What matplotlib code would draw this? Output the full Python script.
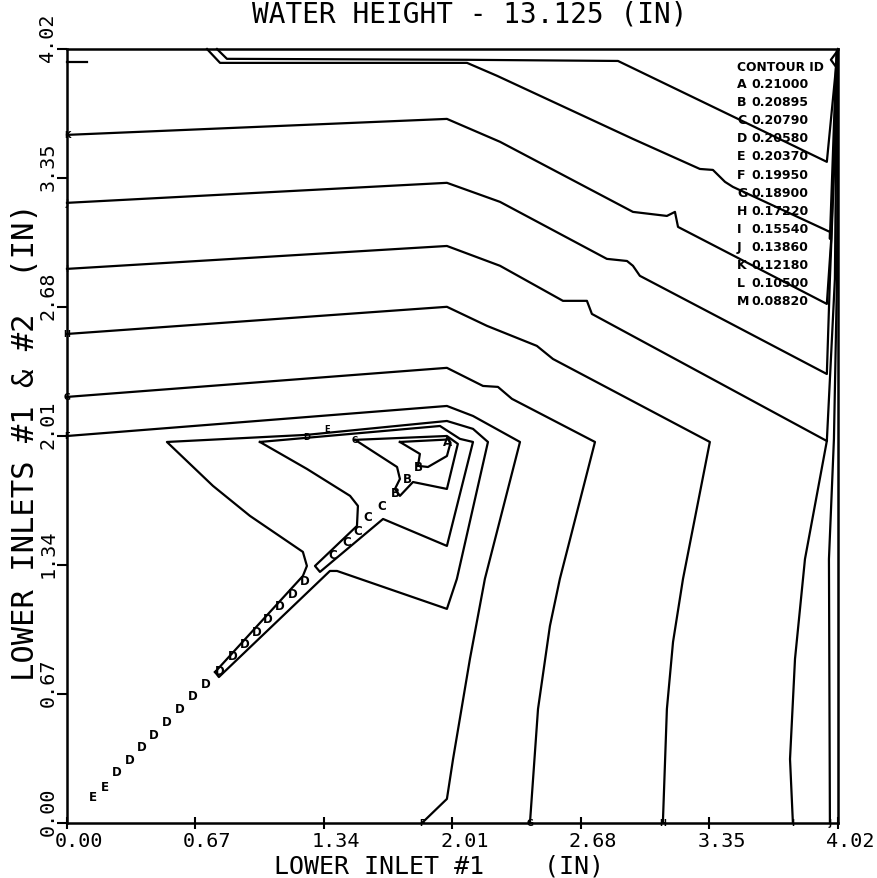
import matplotlib
matplotlib.use("Agg")
import matplotlib.pyplot as plt
from matplotlib.transforms import ScaledTranslation

# contour lines (inches, both axes 0 - 4.02)
line_m_x = [0.782, 0.834, 2.086, 2.873, 3.962, 4.010, 3.983, 4.010, 4.020]
line_m_y = [4.020, 3.969, 3.964, 3.958, 3.434, 3.927, 3.964, 4.000, 4.020]

line_l_x = [0.730, 0.798, 2.086, 2.242, 2.951, 3.300, 3.368, 3.431, 3.472, 3.978, 3.978, 4.012]
line_l_y = [4.020, 3.948, 3.948, 3.881, 3.553, 3.397, 3.392, 3.330, 3.304, 3.070, 3.034, 3.990]

line_k_x = [0.000, 1.981, 2.258, 2.951, 3.128, 3.170, 3.186, 3.962, 3.985, 4.015]
line_k_y = [3.574, 3.657, 3.538, 3.174, 3.153, 3.174, 3.096, 2.696, 3.034, 4.000]

line_j_x = [0.000, 1.981, 2.258, 2.815, 2.920, 2.951, 2.987, 3.962, 3.978, 4.000, 4.017]
line_j_y = [3.221, 3.325, 3.226, 2.930, 2.919, 2.894, 2.842, 2.332, 2.826, 3.400, 4.005]

line_i_x = [0.000, 1.981, 2.258, 2.586, 2.711, 2.737, 3.962, 4.004, 4.015]
line_i_y = [2.878, 2.997, 2.894, 2.712, 2.712, 2.644, 1.984, 2.826, 4.008]

line_h_x = [0.000, 1.981, 2.190, 2.450, 2.534, 3.352, 3.212, 3.160, 3.128, 3.107]
line_h_y = [2.540, 2.681, 2.582, 2.478, 2.410, 1.979, 1.268, 0.940, 0.592, 0.000]

line_g_x = [0.000, 1.981, 2.169, 2.247, 2.320, 2.753, 2.570, 2.518, 2.456, 2.414]
line_g_y = [2.213, 2.364, 2.270, 2.265, 2.203, 1.979, 1.268, 1.023, 0.592, 0.000]

line_f_x = [0.000, 1.981, 2.117, 2.362, 2.179, 2.101, 2.013, 1.981, 1.851]
line_f_y = [2.010, 2.166, 2.114, 1.979, 1.268, 0.852, 0.332, 0.125, 0.000]

right_a_x = [3.785, 3.770, 3.796, 3.848, 3.962]
right_a_y = [0.000, 0.332, 0.852, 1.371, 1.984]

right_b_x = [3.978, 3.973, 3.999, 4.015, 4.020]
right_b_y = [0.000, 1.371, 1.995, 2.826, 4.010]

wedge_e_x = [0.772, 1.230, 1.251, 1.230, 0.954, 0.761, 0.521, 1.251, 1.981, 2.117, 2.195,
             2.033, 1.981, 1.408, 1.371, 0.792, 0.772]
wedge_e_y = [0.784, 1.283, 1.335, 1.408, 1.595, 1.751, 1.979, 2.016, 2.088, 2.047, 1.979,
             1.268, 1.112, 1.309, 1.309, 0.758, 0.784]

wedge_d_x = [1.006, 1.251, 1.476, 1.517, 1.512, 1.293, 1.319, 1.648, 1.981, 2.117, 2.049, 1.945, 1.006]
wedge_d_y = [1.979, 1.839, 1.699, 1.647, 1.543, 1.335, 1.304, 1.579, 1.439, 1.979, 1.995, 2.062, 1.979]

wedge_c_x = [1.502, 1.721, 1.736, 1.710, 1.736, 1.804, 1.981, 2.038, 1.981, 1.502]
wedge_c_y = [1.990, 1.849, 1.787, 1.735, 1.699, 1.771, 1.735, 1.969, 2.010, 1.990]

wedge_b_x = [1.736, 1.840, 1.830, 1.882, 1.981, 2.000, 1.990, 1.736]
wedge_b_y = [1.979, 1.917, 1.855, 1.849, 1.906, 1.975, 1.992, 1.979]

stub_x = [0.000, 0.104]
stub_y = [3.953, 3.953]

# contour id letters written along the ridge
ridge_txt = ["E", "E"] + ["D"] * 16 + ["C"] * 5 + ["B"] * 3 + ["A"]
ridge_x = [0.136, 0.198, 0.261, 0.328, 0.391, 0.454, 0.521, 0.589, 0.657, 0.725, 0.798, 0.865,
           0.928, 0.991, 1.048, 1.111, 1.178, 1.241, 1.387, 1.460, 1.517, 1.569, 1.642,
           1.710, 1.773, 1.830, 1.986]
ridge_y = [0.135, 0.192, 0.265, 0.332, 0.395, 0.457, 0.525, 0.592, 0.660, 0.727, 0.790, 0.868,
           0.930, 0.992, 1.060, 1.127, 1.190, 1.257, 1.397, 1.460, 1.517, 1.590, 1.647,
           1.719, 1.787, 1.849, 1.984]

# letters at the line ends
edge_txt = ["D", "E", "C", "K", "J", "I", "H", "G", "F", "F", "G", "H", "I", "J"]
edge_x = [1.251, 1.356, 1.502, 0, 0, 0, 0, 0, 0, 1.851, 2.414, 3.107, 3.785, 3.978]
edge_y = [2.005, 2.047, 1.990, 3.574, 3.221, 2.878, 2.540, 2.213, 2.010, 0, 0, 0, 0, 0]

ids = ["A", "B", "C", "D", "E", "F", "G", "H", "I", "J", "K", "L", "M"]
levels = ["0.21000", "0.20895", "0.20790", "0.20580", "0.20370", "0.19950", "0.18900",
          "0.17220", "0.15540", "0.13860", "0.12180", "0.10500", "0.08820"]

ticks = [0.00, 0.67, 1.34, 2.01, 2.68, 3.35, 4.02]
tick_labels = ["0.00", "0.67", "1.34", "2.01", "2.68", "3.35", "4.02"]

mono = "DejaVu Sans Mono"

fig = plt.figure(figsize=(8.78, 8.79), dpi=100)
ax = fig.add_axes([0.0763, 0.0626, 0.8781, 0.8805])

lines = [(line_m_x, line_m_y), (line_l_x, line_l_y), (line_k_x, line_k_y),
         (line_j_x, line_j_y), (line_i_x, line_i_y), (line_h_x, line_h_y),
         (line_g_x, line_g_y), (line_f_x, line_f_y), (right_a_x, right_a_y),
         (right_b_x, right_b_y), (wedge_e_x, wedge_e_y), (wedge_d_x, wedge_d_y),
         (wedge_c_x, wedge_c_y), (wedge_b_x, wedge_b_y), (stub_x, stub_y)]
for xs, ys in lines:
    ax.plot(xs, ys, color="black", linewidth=1.6, clip_on=False)

for s, x, y in zip(ridge_txt, ridge_x, ridge_y):
    ax.text(x, y, s, fontsize=8.5, fontweight="heavy", ha="center", va="center")
for s, x, y in zip(edge_txt, edge_x, edge_y):
    ax.text(x, y, s, fontsize=6, fontweight="bold", ha="center", va="center", clip_on=False)

# legend block
ax.text(0.869, 0.978, "CONTOUR ID", transform=ax.transAxes, fontsize=8.8,
        fontweight="bold", ha="left", va="center")
for i, (c, v) in enumerate(zip(ids, levels)):
    yy = 0.955 - i * 0.0233
    ax.text(0.869, yy, c, transform=ax.transAxes, fontsize=9, fontweight="bold",
            ha="left", va="center")
    ax.text(0.888, yy, v, transform=ax.transAxes, fontsize=9, fontweight="bold",
            ha="left", va="center")

ax.set_xlim(0, 4.02)
ax.set_ylim(0, 4.02)
ax.set_xticks(ticks)
ax.set_yticks(ticks)
ax.set_xticklabels(tick_labels, family=mono, fontsize=14.5)
ax.set_yticklabels(tick_labels, family=mono, fontsize=14.5, rotation=90, va="center")
ax.tick_params(axis="x", direction="inout", length=9, width=1.5, pad=1)
ax.tick_params(axis="y", direction="out", length=7, width=1.5, pad=0)
for lbl in ax.get_xticklabels():
    lbl.set_transform(lbl.get_transform() + ScaledTranslation(0.12, 0, fig.dpi_scale_trans))
for lbl in ax.get_yticklabels():
    lbl.set_transform(lbl.get_transform() + ScaledTranslation(0, 0.12, fig.dpi_scale_trans))
for sp in ax.spines.values():
    sp.set_linewidth(1.8)

fig.text(0.535, 0.983, "WATER HEIGHT - 13.125 (IN)", family=mono, fontsize=20,
         ha="center", va="center")
fig.text(0.5, 0.014, "LOWER INLET #1    (IN)", family=mono, fontsize=18,
         ha="center", va="center")
fig.text(0.029, 0.497, "LOWER INLETS #1 & #2  (IN)", family=mono, fontsize=22,
         rotation=90, ha="center", va="center")

fig.savefig("out.png", dpi=100)
